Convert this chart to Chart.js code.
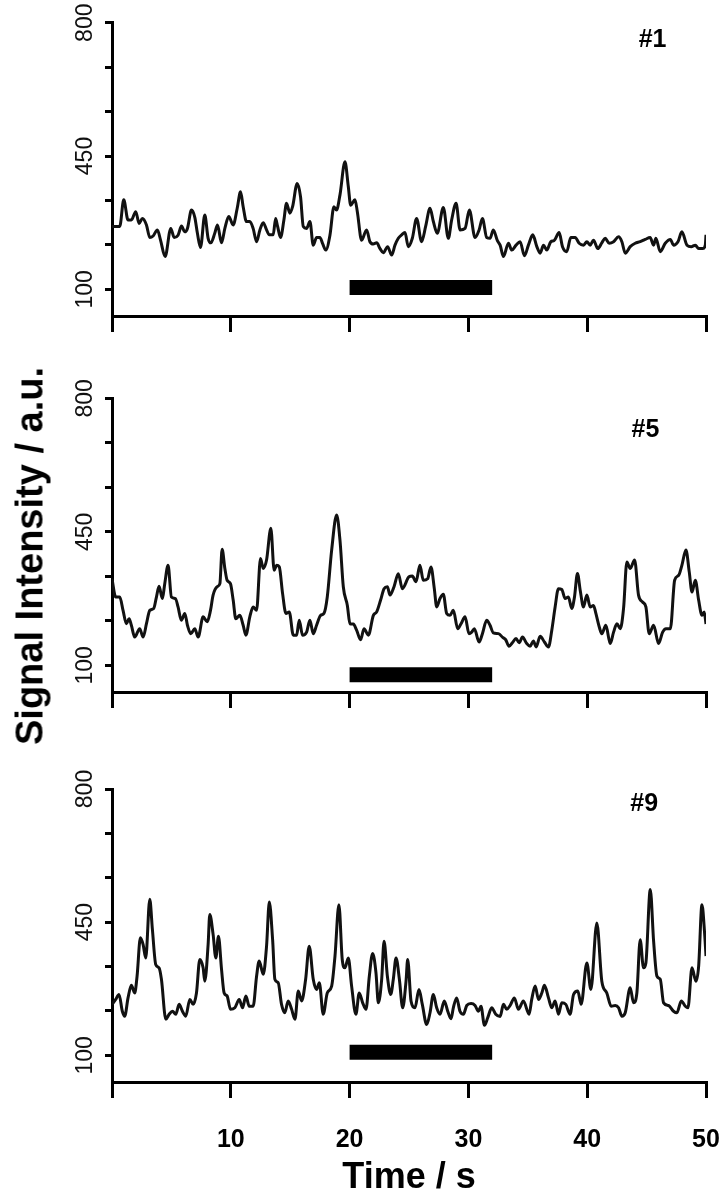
<!DOCTYPE html>
<html lang="en">

<head>
    <meta charset="UTF-8">
    <title>Signal Intensity</title>
    <script src="https://cdn.jsdelivr.net/npm/chart.js"></script>
    <style>
        body { margin: 0; background: #fff; }
        .pagina { position: relative; width: 722px; height: 1200px; }
        .painel { position: absolute; left: 0; width: 722px; }
        #tituloY {
            position: absolute; left: 30px; top: 556px;
            transform: translate(-50%, -50%) rotate(-90deg);
            font: bold 38px "Liberation Sans", Arial, sans-serif;
            white-space: nowrap; color: #000;
        }
    </style>
</head>

<body>
    <div class="pagina">
        <div class="painel" style="top: 0; height: 345px;"><canvas id="chart1"></canvas></div>
        <div class="painel" style="top: 370px; height: 345px;"><canvas id="chart5"></canvas></div>
        <div class="painel" style="top: 760px; height: 440px;"><canvas id="chart9"></canvas></div>
        <div id="tituloY">Signal Intensity / a.u.</div>
    </div>
</body>

</html>
<script>
    // tick values and labels
    var xTicks = [0, 10, 20, 30, 40, 50];
    var xLabels = ['', '10', '20', '30', '40', '50'];
    var yTicks = [100, 216.67, 333.33, 450, 566.67, 683.33, 800];
    var yLabels = ['100', '', '', '450', '', '', '800'];

    // stimulus bar (start / end time, s)
    var stimTime = [20, 32];

    // cell #1
    var time1 = [0, 0.65, 0.99, 1.35, 1.63, 2.0, 2.28, 2.56, 2.9, 3.18, 3.46, 3.82, 4.08, 4.47, 4.95, 5.23, 5.56, 5.85, 6.13, 6.35,
        6.69, 6.97, 7.19, 7.45, 7.81, 8.09, 8.32, 8.65, 8.88, 9.22, 9.5, 9.83, 10.2, 10.54, 10.82, 11.04, 11.32, 11.6, 11.88, 12.17,
        12.45, 12.73, 13.01, 13.24, 13.57, 13.77, 13.94, 14.19, 14.47, 14.69, 14.97, 15.2, 15.59, 15.87, 16.1, 16.38, 16.66, 16.94, 17.22, 17.5,
        17.73, 18.0, 18.35, 18.68, 18.9, 19.19, 19.61, 19.89, 20.09, 20.45, 20.65, 21.01, 21.43, 21.71, 21.99, 22.28, 22.56, 22.84, 23.2, 23.54,
        23.82, 24.1, 24.38, 24.66, 24.94, 25.28, 25.64, 26.06, 26.4, 26.77, 27.05, 27.38, 27.89, 28.31, 28.59, 28.96, 29.3, 29.72, 30.08, 30.56,
        30.9, 31.18, 31.54, 31.82, 32.1, 32.44, 32.67, 32.95, 33.37, 33.65, 34.01, 34.35, 34.72, 35.05, 35.42, 35.76, 36.04, 36.32, 36.6, 36.94,
        37.22, 37.64, 37.92, 38.28, 38.62, 38.99, 39.32, 39.69, 39.97, 40.25, 40.53, 40.9, 41.23, 41.51, 41.85, 42.22, 42.64, 42.92, 43.2, 43.62,
        44.04, 44.46, 44.88, 45.3, 45.59, 45.78, 46.15, 46.57, 47.0, 47.27, 47.64, 47.97, 48.4, 48.76, 49.1, 49.38, 49.74, 49.94, 50.0];
    var signal1 = [265, 265, 335, 282, 282, 304, 273, 286, 269, 236, 240, 256, 230, 186, 260, 236, 242, 266, 251, 260,
        308, 289, 247, 210, 295, 234, 222, 247, 269, 222, 260, 291, 269, 313, 356, 317, 278, 278, 260, 225,
        256, 275, 256, 243, 243, 286, 265, 236, 282, 326, 300, 317, 378, 343, 265, 260, 278, 216, 236, 236,
        220, 203, 243, 317, 308, 348, 435, 370, 321, 335, 304, 229, 256, 225, 219, 222, 207, 196, 212, 190,
        216, 234, 243, 249, 212, 234, 286, 225, 265, 313, 278, 247, 315, 234, 282, 326, 256, 260, 308, 236,
        256, 286, 236, 234, 256, 228, 216, 186, 221, 203, 216, 225, 188, 216, 243, 212, 195, 216, 203, 225,
        228, 249, 212, 199, 236, 236, 221, 216, 225, 216, 229, 207, 222, 234, 221, 225, 238, 225, 195, 212,
        221, 225, 231, 236, 216, 234, 199, 221, 231, 216, 225, 251, 216, 212, 216, 207, 207, 216, 243];

    // cell #5
    var time5 = [0, 0.31, 0.65, 0.93, 1.21, 1.44, 1.63, 1.91, 2.33, 2.62, 2.9, 3.18, 3.51, 3.74, 3.96, 4.24, 4.44, 4.72, 5.0, 5.34,
        5.56, 5.84, 6.13, 6.35, 6.63, 6.97, 7.25, 7.67, 8.01, 8.29, 8.51, 8.85, 9.08, 9.27, 9.5, 9.69, 9.97, 10.2, 10.42, 10.76,
        11.04, 11.27, 11.6, 11.88, 12.17, 12.5, 12.73, 13.01, 13.37, 13.65, 13.85, 14.08, 14.36, 14.64, 14.92, 15.26, 15.54, 15.76, 16.04, 16.38,
        16.66, 16.94, 17.22, 17.56, 17.84, 18.12, 18.49, 18.91, 19.19, 19.47, 19.81, 20.03, 20.31, 20.59, 20.93, 21.21, 21.58, 22.0, 22.28, 22.61,
        22.9, 23.18, 23.4, 23.74, 24.1, 24.44, 25.0, 25.28, 25.59, 25.92, 26.2, 26.57, 26.85, 27.13, 27.33, 27.61, 27.89, 28.17, 28.45, 28.73,
        29.1, 29.38, 29.72, 30.05, 30.28, 30.5, 30.9, 31.18, 31.54, 31.82, 32.1, 32.53, 32.89, 33.14, 33.42, 33.7, 34.01, 34.27, 34.55, 34.91,
        35.19, 35.47, 35.7, 36.04, 36.4, 36.74, 37.02, 37.3, 37.58, 37.86, 38.14, 38.42, 38.7, 38.93, 39.18, 39.41, 39.69, 39.97, 40.25, 40.53,
        40.73, 41.01, 41.23, 41.57, 41.94, 42.22, 42.5, 42.78, 43.06, 43.34, 43.62, 43.99, 44.32, 44.66, 44.94, 45.22, 45.59, 46.01, 46.35, 46.63,
        47.0, 47.36, 47.7, 47.97, 48.31, 48.59, 48.82, 49.1, 49.38, 49.66, 49.85, 50.0];
    var signal5 = [327, 279, 279, 244, 209, 222, 205, 174, 196, 174, 209, 244, 249, 279, 307, 275, 314, 362, 279, 275,
        253, 218, 236, 205, 183, 196, 174, 227, 214, 244, 284, 306, 314, 404, 354, 323, 314, 271, 222, 231,
        205, 179, 227, 253, 244, 380, 354, 376, 459, 349, 362, 358, 288, 236, 240, 179, 179, 218, 179, 187,
        218, 183, 205, 231, 236, 279, 402, 494, 428, 306, 257, 209, 208, 192, 167, 196, 179, 231, 240, 271,
        301, 306, 284, 306, 340, 301, 332, 334, 319, 362, 323, 327, 358, 301, 253, 275, 286, 236, 231, 244,
        196, 209, 227, 183, 187, 196, 161, 183, 218, 205, 185, 183, 173, 167, 150, 159, 170, 159, 174, 157,
        150, 164, 148, 176, 161, 148, 192, 253, 301, 299, 275, 279, 249, 279, 341, 297, 253, 284, 253, 257,
        236, 201, 183, 205, 157, 187, 209, 196, 249, 371, 354, 376, 284, 266, 253, 183, 205, 157, 187, 196,
        196, 323, 336, 362, 402, 345, 292, 323, 271, 231, 240, 208];

    // cell #9
    var time9 = [0, 0.31, 0.59, 0.87, 1.07, 1.35, 1.63, 1.91, 2.11, 2.39, 2.62, 2.84, 3.18, 3.4, 3.68, 3.96, 4.16, 4.53, 4.81, 5.09,
        5.37, 5.65, 5.93, 6.21, 6.55, 6.83, 7.11, 7.39, 7.67, 7.81, 8.09, 8.23, 8.51, 8.74, 8.96, 9.22, 9.44, 9.69, 9.97, 10.34,
        10.71, 10.99, 11.27, 11.55, 11.88, 12.17, 12.39, 12.73, 13.01, 13.24, 13.52, 13.71, 13.99, 14.27, 14.55, 14.83, 15.12, 15.4, 15.68, 15.96,
        16.3, 16.6, 16.94, 17.22, 17.45, 17.78, 18.12, 18.49, 18.77, 19.1, 19.38, 19.61, 19.89, 20.17, 20.53, 20.81, 21.1, 21.38, 21.66, 21.94,
        22.22, 22.42, 22.7, 22.9, 23.18, 23.46, 23.68, 23.91, 24.19, 24.47, 24.75, 24.89, 25.17, 25.5, 25.84, 26.12, 26.49, 26.77, 27.05, 27.33,
        27.61, 27.97, 28.26, 28.54, 28.73, 29.01, 29.29, 29.58, 29.86, 30.22, 30.56, 30.84, 31.06, 31.35, 31.63, 31.96, 32.3, 32.67, 32.95, 33.23,
        33.51, 33.87, 34.21, 34.63, 35.11, 35.33, 35.62, 35.9, 36.18, 36.4, 36.74, 37.02, 37.3, 37.58, 37.86, 38.2, 38.56, 38.85, 39.21, 39.49,
        39.97, 40.31, 40.81, 41.23, 41.65, 42.02, 42.36, 42.64, 42.92, 43.2, 43.62, 43.9, 44.18, 44.46, 44.74, 44.94, 45.31, 45.59, 45.87, 46.15,
        46.43, 46.85, 47.27, 47.55, 47.92, 48.26, 48.48, 48.82, 49.15, 49.38, 49.66, 49.88, 50.0];
    var signal9 = [234, 247, 260, 216, 203, 251, 284, 264, 308, 409, 391, 356, 510, 431, 339, 330, 300, 195, 208, 216,
        208, 234, 216, 203, 247, 234, 264, 352, 330, 295, 391, 470, 418, 356, 413, 326, 264, 256, 221, 225,
        247, 225, 256, 229, 229, 308, 348, 313, 387, 503, 404, 300, 291, 234, 212, 243, 221, 195, 269, 243,
        300, 387, 300, 273, 291, 208, 264, 282, 361, 496, 352, 330, 356, 282, 208, 264, 238, 221, 308, 368,
        317, 238, 300, 400, 308, 260, 300, 356, 300, 225, 295, 352, 243, 225, 273, 234, 181, 212, 260, 225,
        208, 243, 216, 196, 225, 251, 216, 208, 231, 236, 231, 216, 229, 179, 199, 225, 208, 202, 234, 221,
        231, 251, 221, 243, 208, 247, 282, 247, 264, 284, 251, 225, 243, 208, 238, 234, 208, 260, 269, 234,
        343, 273, 448, 295, 264, 229, 231, 225, 203, 212, 278, 238, 264, 404, 330, 343, 536, 400, 308, 300,
        238, 231, 216, 212, 243, 229, 225, 330, 295, 334, 496, 422, 361];

    var fonte = '"Liberation Sans", Arial, sans-serif';

    // draws the "#n" label of each panel at a point given in axis units
    var rotuloPlugin = {
        id: 'rotuloPainel',
        afterDraw: function (chart, args, opts) {
            var ctx = chart.ctx;
            var x = chart.scales.x.getPixelForValue(opts.x);
            var y = chart.scales.y.getPixelForValue(opts.y);
            ctx.save();
            ctx.font = 'bold 25px ' + fonte;
            ctx.fillStyle = '#000';
            ctx.textAlign = 'center';
            ctx.textBaseline = 'middle';
            ctx.fillText(opts.text, x, y);
            ctx.restore();
        }
    };

    function criarPainel(canvasId, tempos, sinais, nivelBarra, rotulo, posRotulo, topo, alturaEixoX, ultimo) {
        var pontos = tempos.map(function (t, i) { return { x: t, y: sinais[i] }; });
        var barra = stimTime.map(function (t) { return { x: t, y: nivelBarra }; });
        var config = {
            type: 'line',
            data: {
                datasets: [
                    {
                        data: pontos,
                        borderColor: '#111',
                        borderWidth: 3,
                        borderJoinStyle: 'round',
                        pointRadius: 0,
                        cubicInterpolationMode: 'monotone'
                    },
                    {
                        data: barra,
                        borderColor: '#000',
                        borderWidth: 15,
                        borderCapStyle: 'butt',
                        pointRadius: 0
                    }
                ]
            },
            options: {
                responsive: true,
                maintainAspectRatio: false,
                animation: false,
                layout: { padding: { top: topo, right: 16, bottom: 0, left: 0 } },
                plugins: {
                    legend: { display: false },
                    tooltip: { enabled: false },
                    rotuloPainel: { text: rotulo, x: posRotulo[0], y: posRotulo[1] }
                },
                scales: {
                    x: {
                        type: 'linear',
                        min: 0,
                        max: 50,
                        afterBuildTicks: function (s) { s.ticks = xTicks.map(function (v) { return { value: v }; }); },
                        // fixed height, and no extra room for the "50" label
                        afterFit: function (s) { s.height = alturaEixoX; s.paddingLeft = 0; s.paddingRight = 0; },
                        grid: { drawOnChartArea: false, color: '#000', lineWidth: 3, tickLength: 16 },
                        border: { color: '#000', width: 3 },
                        ticks: {
                            maxRotation: 0,
                            padding: 27,
                            color: '#000',
                            font: { family: fonte, size: 25, weight: 'bold' },
                            callback: function (v, i) { return ultimo ? xLabels[i] : ''; }
                        },
                        title: {
                            display: ultimo,
                            text: 'Time / s',
                            color: '#000',
                            padding: 0,
                            font: { family: fonte, size: 36, weight: 'bold' }
                        }
                    },
                    y: {
                        min: 30,
                        max: 800,
                        afterBuildTicks: function (s) { s.ticks = yTicks.map(function (v) { return { value: v }; }); },
                        afterFit: function (s) { s.width = 112; },
                        grid: { drawOnChartArea: false, color: '#000', lineWidth: 3, tickLength: 7 },
                        border: { color: '#000', width: 3 },
                        ticks: {
                            minRotation: 90,
                            maxRotation: 90,
                            crossAlign: 'center',
                            padding: 0,
                            color: '#111',
                            font: { family: fonte, size: 23 },
                            callback: function (v, i) { return yLabels[i]; }
                        }
                    }
                }
            },
            plugins: [rotuloPlugin]
        };
        return new Chart(document.getElementById(canvasId), config);
    }

    var ax_chart1 = criarPainel('chart1', time1, signal1, 105, '#1', [45.5, 754], 22.7, 29, false);
    var ax_chart5 = criarPainel('chart5', time5, signal5, 75, '#5', [44.9, 717], 28.3, 23, false);
    var ax_chart9 = criarPainel('chart9', time9, signal9, 108, '#9', [44.8, 759], 29, 118, true);
</script>
